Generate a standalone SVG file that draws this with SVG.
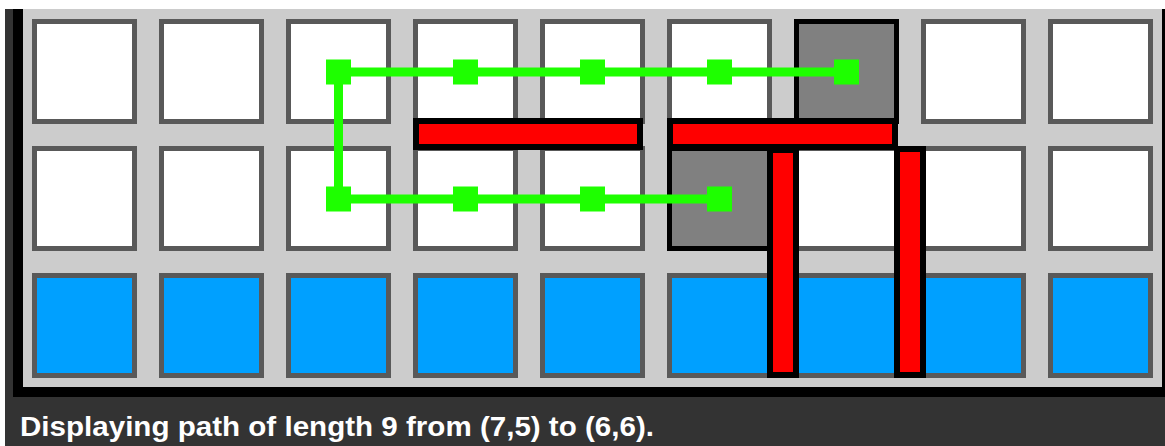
<svg xmlns="http://www.w3.org/2000/svg" width="1165" height="446" viewBox="0 0 1165 446">
<style>
.c{stroke:#595959;stroke-width:5;}
.w{fill:#ffffff;}
.b{fill:#00a0ff;}
.g{fill:#808080;stroke:#000000;stroke-width:5;}
.wall{fill:#ff0000;stroke:#000000;stroke-width:6;}
.pl{fill:none;stroke:#1eff00;stroke-width:9;stroke-linejoin:miter;}
.pt{fill:#1eff00;}
.cap{fill:#ffffff;font-family:"Liberation Sans",Arial,sans-serif;font-weight:bold;font-size:27px;}
</style>
<rect x="0" y="0" width="1165" height="446" fill="#ffffff"/>
<rect x="5" y="9" width="1160" height="437" fill="#333333"/>
<rect x="13" y="9" width="1152" height="388" fill="#000000"/>
<rect x="23" y="9" width="1139" height="378" fill="#cccccc"/>
<g id="row0">
<g id="cell-0-0"><rect class="c w" x="34.5" y="21.5" width="100" height="100"/></g>
<g id="cell-1-0"><rect class="c w" x="161.5" y="21.5" width="100" height="100"/></g>
<g id="cell-2-0"><rect class="c w" x="288.5" y="21.5" width="100" height="100"/></g>
<g id="cell-3-0"><rect class="c w" x="415.5" y="21.5" width="100" height="100"/></g>
<g id="cell-4-0"><rect class="c w" x="542.5" y="21.5" width="100" height="100"/></g>
<g id="cell-5-0"><rect class="c w" x="669.5" y="21.5" width="100" height="100"/></g>
<g id="cell-6-0"><rect class="g" x="796.5" y="21.5" width="100" height="100"/></g>
<g id="cell-7-0"><rect class="c w" x="923.5" y="21.5" width="100" height="100"/></g>
<g id="cell-8-0"><rect class="c w" x="1050.5" y="21.5" width="100" height="100"/></g>
</g>
<g id="row1">
<g id="cell-0-1"><rect class="c w" x="34.5" y="148.5" width="100" height="100"/></g>
<g id="cell-1-1"><rect class="c w" x="161.5" y="148.5" width="100" height="100"/></g>
<g id="cell-2-1"><rect class="c w" x="288.5" y="148.5" width="100" height="100"/></g>
<g id="cell-3-1"><rect class="c w" x="415.5" y="148.5" width="100" height="100"/></g>
<g id="cell-4-1"><rect class="c w" x="542.5" y="148.5" width="100" height="100"/></g>
<g id="cell-5-1"><rect class="g" x="669.5" y="148.5" width="100" height="100"/></g>
<g id="cell-6-1"><rect class="c w" x="796.5" y="148.5" width="100" height="100"/></g>
<g id="cell-7-1"><rect class="c w" x="923.5" y="148.5" width="100" height="100"/></g>
<g id="cell-8-1"><rect class="c w" x="1050.5" y="148.5" width="100" height="100"/></g>
</g>
<g id="row2">
<g id="cell-0-2"><rect class="c b" x="34.5" y="275.5" width="100" height="100"/></g>
<g id="cell-1-2"><rect class="c b" x="161.5" y="275.5" width="100" height="100"/></g>
<g id="cell-2-2"><rect class="c b" x="288.5" y="275.5" width="100" height="100"/></g>
<g id="cell-3-2"><rect class="c b" x="415.5" y="275.5" width="100" height="100"/></g>
<g id="cell-4-2"><rect class="c b" x="542.5" y="275.5" width="100" height="100"/></g>
<g id="cell-5-2"><rect class="c b" x="669.5" y="275.5" width="100" height="100"/></g>
<g id="cell-6-2"><rect class="c b" x="796.5" y="275.5" width="100" height="100"/></g>
<g id="cell-7-2"><rect class="c b" x="923.5" y="275.5" width="100" height="100"/></g>
<g id="cell-8-2"><rect class="c b" x="1050.5" y="275.5" width="100" height="100"/></g>
</g>
<g id="walls">
<g id="wall-h1"><rect class="wall" x="416" y="121" width="224" height="26"/></g>
<g id="wall-h2"><rect class="wall" x="670" y="121" width="225" height="26"/></g>
<g id="wall-v1"><rect class="wall" x="770" y="150" width="26" height="225"/></g>
<g id="wall-v2"><rect class="wall" x="897" y="149" width="26" height="226"/></g>
</g>
<g id="connectors">
<polyline class="pl" points="846.5,72 338.5,72 338.5,199 719.5,199"/>
</g>
<g id="path-points">
<rect class="pt" x="834" y="59.5" width="25" height="25"/>
<rect class="pt" x="707" y="59.5" width="25" height="25"/>
<rect class="pt" x="580" y="59.5" width="25" height="25"/>
<rect class="pt" x="453" y="59.5" width="25" height="25"/>
<rect class="pt" x="326" y="59.5" width="25" height="25"/>
<rect class="pt" x="326" y="186.5" width="25" height="25"/>
<rect class="pt" x="453" y="186.5" width="25" height="25"/>
<rect class="pt" x="580" y="186.5" width="25" height="25"/>
<rect class="pt" x="707" y="186.5" width="25" height="25"/>
</g>
<text class="cap" x="20" y="436" textLength="634" lengthAdjust="spacingAndGlyphs">Displaying path of length 9 from (7,5) to (6,6).</text>
</svg>
